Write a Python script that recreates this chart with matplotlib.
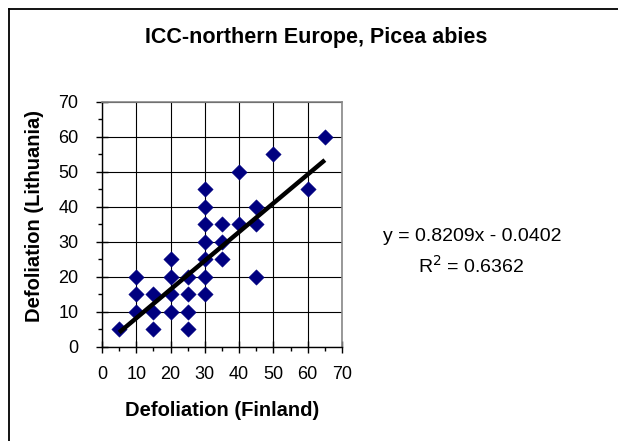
import matplotlib
matplotlib.use("Agg")
import matplotlib.pyplot as plt
from matplotlib.lines import Line2D
from matplotlib.ticker import MultipleLocator

plt.rcParams['font.family'] = ['Liberation Sans', 'DejaVu Sans']

# Data
finland = [5, 10, 10, 10, 15, 15, 15, 20, 20, 20, 20, 25, 25, 25, 25,
           30, 30, 30, 30, 30, 30, 30, 35, 35, 35, 40, 40, 45, 45, 45,
           50, 60, 65]
lithuania = [5, 20, 15, 10, 15, 10, 5, 25, 20, 15, 10, 20, 15, 10, 5,
             45, 40, 35, 30, 25, 20, 15, 35, 30, 25, 50, 35, 40, 35, 20,
             55, 45, 60]
slope = 0.8209
intercept = -0.0402
r2 = 0.6362
title = "ICC-northern Europe, Picea abies"
xlabel = "Defoliation (Finland)"
ylabel = "Defoliation (Lithuania)"

W, H = 618, 441
fig = plt.figure(figsize=(W / 100, H / 100), dpi=100)
fig.patch.set_facecolor('white')

# outer chart border (left and top visible)
bx, by = 8.5 / W, 1 - 9 / H
fig.add_artist(Line2D([bx, bx], [0, by], transform=fig.transFigure,
                      color='black', linewidth=1.3))
fig.add_artist(Line2D([bx, 1], [by, by], transform=fig.transFigure,
                      color='black', linewidth=1.3))

left, right, top, bottom = 102, 342, 101.7, 346.7
aw, ah = right - left, bottom - top
ax = fig.add_axes([left / W, 1 - bottom / H, aw / W, ah / H])

ax.set_xlim(0, 70)
ax.set_ylim(0, 70)
ax.xaxis.set_major_locator(MultipleLocator(10))
ax.yaxis.set_major_locator(MultipleLocator(10))
ax.xaxis.set_minor_locator(MultipleLocator(5))
ax.yaxis.set_minor_locator(MultipleLocator(5))
ax.grid(True, which='major', color='black', linewidth=0.8, zorder=0)
ax.set_axisbelow(True)

for s in ['top', 'right']:
    ax.spines[s].set_color('#888888')
    ax.spines[s].set_linewidth(1.2)
for s in ['left', 'bottom']:
    ax.spines[s].set_color('black')
    ax.spines[s].set_linewidth(1.0)

ax.tick_params(which='major', direction='inout', length=8, width=1, labelsize=13)
ax.tick_params(axis='x', which='major', pad=10)
ax.tick_params(axis='y', which='major', pad=13)
ax.tick_params(which='minor', direction='out', length=3, width=1)

ax.scatter(finland, lithuania, marker='D', s=62, color='#000080',
           edgecolors='#000080', linewidths=0.3, zorder=3)

xmin, xmax = min(finland), max(finland)
ax.plot([xmin, xmax], [slope * xmin + intercept, slope * xmax + intercept],
        color='black', linewidth=3.2, solid_capstyle='butt', zorder=4)

ax.set_xlabel(xlabel, fontsize=14.5, fontweight='bold')
ax.set_ylabel(ylabel, fontsize=14.5, fontweight='bold')
ax.xaxis.set_label_coords((222 - left) / aw, (bottom - 401) / ah)
ax.yaxis.set_label_coords((44 - left) / aw, (bottom - 216) / ah)

fig.text(316 / W, 1 - 43 / H, title, ha='center', va='baseline',
         fontsize=15.5, fontweight='bold')

fig.text(472.5 / W, 1 - 241 / H, f"y = {slope:.4f}x - {abs(intercept):.4f}",
         ha='center', va='baseline', fontsize=14)
fig.text(471.5 / W, 1 - 273 / H, f"R$^2$ = {r2:.4f}", ha='center', va='baseline',
         fontsize=14)

fig.savefig("out.png", dpi=100, facecolor='white')
